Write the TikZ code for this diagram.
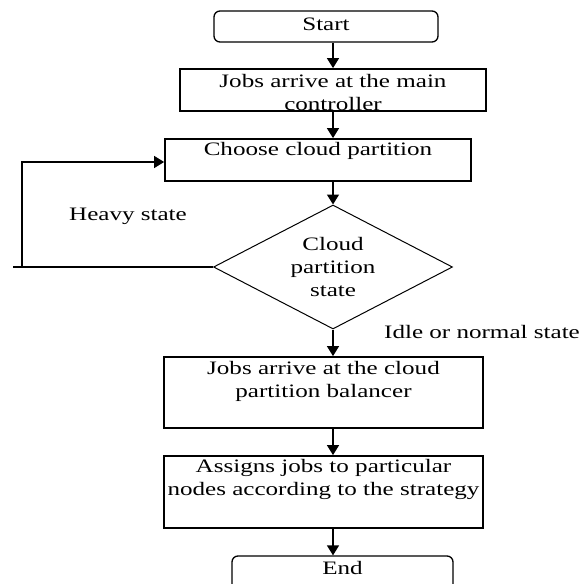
\documentclass[tikz,border=0pt]{standalone}
\usepackage{fontspec}
\setmainfont{Liberation Serif}[FakeStretch=1.32]
\usetikzlibrary{shapes.geometric,arrows.meta}
\begin{document}
\begin{tikzpicture}[x=1pt,y=-1pt,
  box/.style={draw, line width=1.8pt, inner sep=0pt},
  rbox/.style={draw, line width=1.3pt, inner sep=0pt, rounded corners=6pt},
  dia/.style={draw, line width=1pt, diamond, inner sep=0pt, aspect=1.93},
  txt/.style={align=center, inner sep=0pt, font=\fontsize{19}{23}\selectfont},
  arr/.style={line width=1.5pt, -{Triangle[width=12pt,length=10pt]}},
  ln/.style={line width=1.5pt}]
\useasboundingbox (0,0) rectangle (588,583);
% shapes
\node[rbox, minimum width=224pt, minimum height=31pt] (start) at (326,26.5) {};
\node[box, minimum width=306pt, minimum height=42pt] (jm) at (333,90) {};
\node[box, minimum width=306pt, minimum height=42pt] (choose) at (318,160) {};
\node[dia, minimum width=239pt, minimum height=124pt] (dec) at (333,267) {};
\node[box, minimum width=319pt, minimum height=71pt] (cloud) at (323.5,392.5) {};
\node[box, minimum width=319pt, minimum height=72pt] (assign) at (323.5,492) {};
\node[rbox, minimum width=221pt, minimum height=60pt] (end) at (342.5,586) {};
% texts
\node[txt] (tstart) at (326,24) {Start};
\node[txt] (tjm) at (333,93) {Jobs arrive at the main\\controller};
\node[txt] (tchoose) at (318,151) {Choose cloud partition};
\node[txt] (tdec) at (333,267) {Cloud\\partition\\state};
\node[txt] (tcloud) at (323.5,381) {Jobs arrive at the cloud\\partition balancer};
\node[txt] (tassign) at (323.5,479) {Assigns jobs to particular\\nodes according to the strategy};
\node[txt] (tend) at (342.5,568) {End};
\node[txt] (theavy) at (128,216) {Heavy state};
\node[txt] (tidle) at (482,332) {Idle or normal state};
% connectors
\coordinate (lend) at (13,267);
\coordinate (lcorner) at (22,267);
\draw[arr] (start.south -| jm.north) -- (jm.north);
\draw[arr] (jm.south) -- (jm.south |- choose.north);
\draw[arr] (dec.north |- choose.south) -- (dec.north);
\draw[arr] (dec.south) -- (dec.south |- cloud.north);
\draw[arr] (cloud.south -| dec.south) -- (assign.north -| dec.south);
\draw[arr] (assign.south -| dec.south) -- (end.north -| dec.south);
\draw[ln] (dec.west) -- (lend);
\draw[arr] (lcorner) -- (lcorner |- 0,162) -- (choose.west |- 0,162);
\end{tikzpicture}
\end{document}
